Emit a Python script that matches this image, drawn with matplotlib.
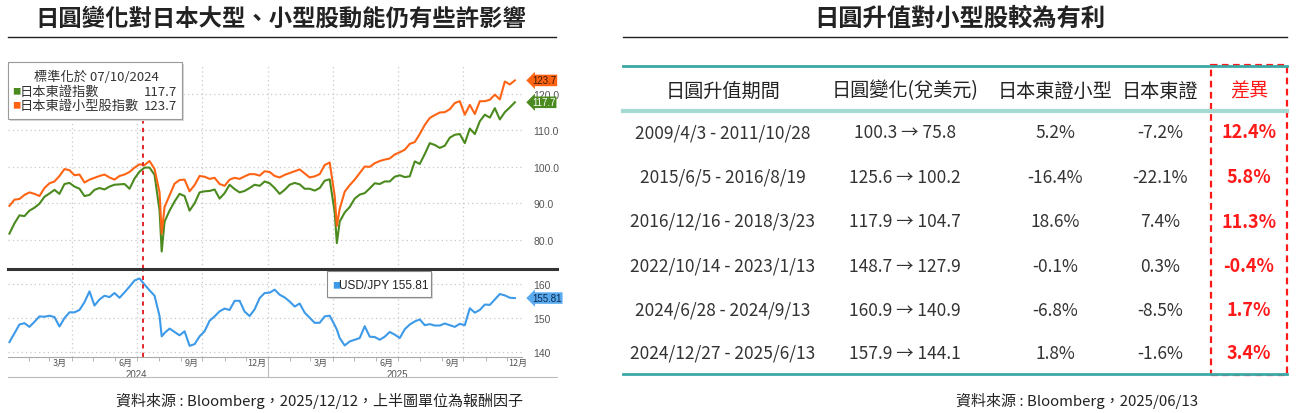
import matplotlib
matplotlib.use('Agg')
import matplotlib.pyplot as plt
from matplotlib.lines import Line2D
from matplotlib.patches import Rectangle
import pandas as pd

plt.rcParams['font.family'] = ['Noto Sans CJK TC', 'DejaVu Sans']
NUMFONT = ['Liberation Sans', 'Noto Sans CJK TC', 'DejaVu Sans']

# ---- left chart data: weekly Friday closes, plus the two crash Mondays ----
week_dates = pd.date_range('2024-01-05', '2025-12-12', freq='W-FRI')
crash_days = pd.to_datetime(['2024-08-05', '2025-04-07'])
dates = week_dates.union(crash_days)

# TOPIX small cap, normalised 07/10/2024 = 100
small_cap = [89.3, 91.0, 91.2, 92.3, 93.0, 92.6, 92.0, 94.2, 95.5, 96.0,
             97.5, 99.4, 99.1, 97.7, 97.9, 95.7, 96.5, 97.0, 97.5, 97.9,
             97.1, 96.5, 97.5, 97.9, 98.6, 99.8, 100.7, 100.5, 101.6, 99.4,
             93.0, 81.7,
             89.0, 92.2, 95.4, 96.4, 96.5, 93.3, 95.0, 97.5, 97.3, 96.7,
             97.0, 95.3, 94.8, 96.5, 97.0, 96.7, 97.4, 98.0, 98.0, 97.6,
             98.8, 98.6, 97.5, 97.1, 97.8, 98.3, 98.8, 99.3, 98.2, 97.1,
             97.4, 98.0, 100.5, 101.2, 92.0, 83.8,
             88.5, 93.2, 95.0, 96.5, 98.3, 100.1, 100.0, 101.0, 101.6, 102.0,
             102.3, 103.4, 104.0, 104.7, 106.3, 106.8, 109.0, 111.5, 113.4, 114.2,
             114.9, 115.0, 115.8, 117.5, 118.0, 114.3, 117.0, 114.5, 118.0, 118.0,
             118.4, 119.8, 118.5, 123.4, 122.6, 123.7]

# TOPIX, normalised 07/10/2024 = 100
topix = [81.7, 84.5, 86.7, 86.5, 88.0, 88.8, 89.9, 91.8, 92.7, 93.7,
         92.6, 95.3, 95.6, 94.6, 94.0, 92.0, 92.3, 93.7, 94.2, 93.8,
         94.6, 95.1, 95.2, 95.3, 94.0, 96.8, 98.7, 99.8, 99.8, 97.8,
         88.0, 76.8,
         85.0, 88.0, 90.5, 92.6, 92.0, 88.0, 90.0, 93.0, 93.3, 93.4,
         93.8, 91.3, 92.8, 95.1, 93.9, 93.0, 93.4, 94.2, 95.1, 94.8,
         96.0, 95.5, 94.2, 92.6, 93.7, 95.1, 95.6, 95.2, 94.0, 94.0,
         93.5, 94.2, 96.2, 96.6, 87.5, 79.1,
         85.0, 87.5, 89.0, 91.3, 92.4, 92.8, 94.1, 95.5, 95.3, 96.0,
         96.0, 97.3, 97.7, 97.2, 97.4, 101.5, 100.8, 103.5, 106.5, 106.0,
         105.2, 105.8, 108.0, 108.8, 109.0, 106.5, 110.5, 109.0, 112.5, 114.3,
         113.5, 116.1, 113.0, 115.0, 116.3, 117.7]

usdjpy = [142.8, 145.4, 148.0, 148.4, 147.3, 148.8, 150.4, 150.3, 150.6, 150.2,
          147.4, 149.9, 151.6, 151.6, 152.3, 154.6, 157.8, 153.6, 155.4, 156.5,
          156.1, 157.3, 155.9, 157.5, 159.2, 161.0, 161.6, 159.8, 158.1, 156.5,
          150.5, 144.5,
          145.5, 146.8, 145.8, 144.8, 146.0, 141.7, 142.2, 144.5, 146.0, 149.1,
          150.4, 151.9, 152.7, 152.3, 155.0, 155.0, 151.8, 150.5, 152.5, 155.8,
          157.3, 157.4, 158.3, 156.8, 156.0, 154.8, 153.3, 154.2, 151.5, 150.0,
          148.5, 148.5, 150.4, 150.6, 147.8, 146.5,
          144.0, 141.8, 143.0, 143.5, 144.0, 147.5, 144.4, 144.3, 143.5, 144.4,
          145.8, 145.0, 144.0, 146.6, 148.0, 148.9, 149.5, 147.8, 148.1, 147.7,
          147.7, 148.3, 147.8, 147.3, 148.2, 147.8, 152.8, 151.5, 152.3, 153.9,
          153.8, 155.4, 157.0, 156.6, 155.9, 155.81]

norm_date = pd.Timestamp('2024-07-10')

# ---- right table data ----
headers = ['日圓升值期間', '日圓變化(兌美元)', '日本東證小型', '日本東證', '差異']
periods = ['2009/4/3 - 2011/10/28', '2015/6/5 - 2016/8/19', '2016/12/16 - 2018/3/23',
           '2022/10/14 - 2023/1/13', '2024/6/28 - 2024/9/13', '2024/12/27 - 2025/6/13']
jpy_from = [100.3, 125.6, 117.9, 148.7, 160.9, 157.9]
jpy_to = [75.8, 100.2, 104.7, 127.9, 140.9, 144.1]
small_ret = [5.2, -16.4, 18.6, -0.1, -6.8, 1.8]
topix_ret = [-7.2, -22.1, 7.4, 0.3, -8.5, -1.6]
diff_ret = [12.4, 5.8, 11.3, -0.4, 1.7, 3.4]

GREEN = '#4b8a1e'
ORANGE = '#ff6414'
BLUE = '#3d9ae8'
RED = '#ff1a1a'
TEAL = '#3aa9a6'

W, H = 1298, 414
fig = plt.figure(figsize=(W / 100, H / 100), dpi=100)


def fx(px):
    return px / W


def fy(py):
    return 1 - py / H


def hline(x0, x1, y, **kw):
    fig.add_artist(Line2D([fx(x0), fx(x1)], [fy(y), fy(y)], transform=fig.transFigure, **kw))


# ---- titles ----
fig.text(fx(281), fy(19), '日圓變化對日本大型、小型股動能仍有些許影響', ha='center', va='center',
         fontsize=16.8, fontweight='bold', color='#222222')
hline(8, 556, 38, color='#222222', lw=1.0)
fig.text(fx(960), fy(19), '日圓升值對小型股較為有利', ha='center', va='center',
         fontsize=17.5, fontweight='bold', color='#222222')
hline(623, 1287, 38, color='#222222', lw=1.0)

# ---- left chart ----
ax1 = fig.add_axes([fx(8), fy(270), fx(522) - fx(8), fy(65) - fy(270)])
ax2 = fig.add_axes([fx(8), fy(358), fx(522) - fx(8), fy(270) - fy(358)], sharex=ax1)

ax1.plot(dates, topix, color=GREEN, lw=1.5)
ax1.plot(dates, small_cap, color=ORANGE, lw=1.5)
ax2.plot(dates, usdjpy, color=BLUE, lw=1.5)

ax1.set_xlim(pd.Timestamp('2024-01-03'), pd.Timestamp('2025-12-22'))
ax1.set_ylim(72.0, 128.2)
ax2.set_ylim(138.4, 164.4)

quarters = pd.to_datetime(['2024-04-01', '2024-07-01', '2024-10-01', '2025-01-01',
                           '2025-04-01', '2025-07-01', '2025-10-01'])
for ax in (ax1, ax2):
    for s in ax.spines.values():
        s.set_visible(False)
    ax.grid(axis='y', color='#c8c8c8', linestyle=(0, (1, 2.5)), lw=0.9)
    for q in quarters:
        ax.axvline(q, color='#c8c8c8', linestyle=(0, (1, 2.5)), lw=0.9, zorder=0)
    ax.axvline(norm_date, color='#e0262b', linestyle=(0, (2.2, 2.2)), lw=1.4, zorder=4)
    ax.yaxis.tick_right()
    ax.tick_params(axis='y', length=0, pad=8, labelsize=7.5, labelcolor='#555555')

ax1.set_yticks([80, 90, 100, 110, 120])
ax1.set_yticklabels(['80.0', '90.0', '100.0', '110.0', '120.0'], fontfamily=NUMFONT)
ax2.set_yticks([140, 150, 160])
ax2.set_yticklabels(['140', '150', '160'], fontfamily=NUMFONT)
ax1.tick_params(axis='x', which='both', length=0, labelbottom=False)

label_days = pd.to_datetime(['2024-03-16', '2024-06-16', '2024-09-16', '2024-12-16',
                             '2025-03-16', '2025-06-16', '2025-09-16', '2025-12-16'])
ax2.set_xticks(label_days)
ax2.set_xticklabels(['3月', '6月', '9月', '12月'] * 2)
ax2.set_xticks(pd.date_range('2024-02-01', '2025-12-01', freq='MS'), minor=True)
ax2.tick_params(axis='x', which='major', length=0, pad=1, labelsize=6.5, labelcolor='#555555')
ax2.tick_params(axis='x', which='minor', length=3, width=0.6, color='#aaaaaa')
ax2.spines['bottom'].set_visible(True)
ax2.spines['bottom'].set_color('#aaaaaa')
ax2.spines['bottom'].set_linewidth(0.8)

xt = ax2.get_xaxis_transform()
for yr, mid in (('2024', '2024-07-01'), ('2025', '2025-07-01')):
    ax2.text(pd.Timestamp(mid), -0.19, yr, transform=xt, ha='center', va='center',
             fontsize=7, color='#555555', family=NUMFONT)
ax2.plot([pd.Timestamp('2025-01-01')] * 2, [0, -0.23], transform=xt, color='#bbbbbb',
         lw=0.8, clip_on=False)
hline(8, 557, 378, color='#bbbbbb', lw=0.8)
hline(8, 557, 270, color='#333333', lw=2.2)

# last-value tags on the right axis
yt1 = ax1.get_yaxis_transform()
tag_kw = dict(ha='left', va='center', fontsize=7, family=NUMFONT, zorder=6)
ax1.text(1.02, small_cap[-1], f'{small_cap[-1]:.1f}', transform=yt1, color='#3a1a00',
         bbox=dict(boxstyle='larrow,pad=0.08', fc=ORANGE, ec='none'), **tag_kw)
ax1.text(1.02, topix[-1], f'{topix[-1]:.1f}', transform=yt1, color='white',
         bbox=dict(boxstyle='larrow,pad=0.08', fc=GREEN, ec='none'), **tag_kw)
ax2.text(1.02, usdjpy[-1], f'{usdjpy[-1]:.2f}', transform=ax2.get_yaxis_transform(),
         color='#0a2a4a', bbox=dict(boxstyle='larrow,pad=0.08', fc='#5aaaf0', ec='none'),
         **tag_kw)

# legend boxes
fig.add_artist(Rectangle((fx(10), fy(122)), fx(182) - fx(8), fy(63) - fy(120),
                         transform=fig.transFigure, fc='#d8d8d8', ec='none', zorder=5))
fig.add_artist(Rectangle((fx(8), fy(120)), fx(182) - fx(8), fy(63) - fy(120),
                         transform=fig.transFigure, fc='white', ec='#9a9a9a', lw=0.8, zorder=5))
fig.text(fx(96), fy(77), f'標準化於 {norm_date:%m/%d/%Y}', ha='center', va='center',
         fontsize=9.5, color='#333333', zorder=6)
for yy, col, name, val in ((92, GREEN, '日本東證指數', topix[-1]),
                           (106, ORANGE, '日本東證小型股指數', small_cap[-1])):
    fig.text(fx(12), fy(yy), '■', ha='left', va='center', fontsize=6, color=col, zorder=6)
    fig.text(fx(20), fy(yy), name, ha='left', va='center', fontsize=9.5, color='#333333', zorder=6)
    fig.text(fx(177), fy(yy), f'{val:.1f}', ha='right', va='center', fontsize=9.5,
             color='#333333', zorder=6)

fig.add_artist(Rectangle((fx(329), fy(300)), fx(431) - fx(327), fy(272) - fy(298),
                         transform=fig.transFigure, fc='#d8d8d8', ec='none', zorder=5))
fig.add_artist(Rectangle((fx(327), fy(298)), fx(431) - fx(327), fy(272) - fy(298),
                         transform=fig.transFigure, fc='white', ec='#8a8a8a', lw=0.8, zorder=5))
fig.text(fx(332), fy(286), '■', ha='left', va='center', fontsize=6, color=BLUE, zorder=6)
fig.text(fx(339), fy(286), f'USD/JPY {usdjpy[-1]:.2f}', ha='left', va='center', fontsize=8.6,
         color='#222222', family=NUMFONT, zorder=6)

fig.text(fx(319), fy(401), '資料來源 : Bloomberg，2025/12/12，上半圖單位為報酬因子',
         ha='center', va='center', fontsize=10.8, color='#222222')

# ---- right table ----
col_x = [723, 905, 1055, 1160, 1249]
row_y = [133, 178, 222, 267, 311, 354]

hline(623, 1287, 67, color=TEAL, lw=2.0)
hline(623, 1287, 112, color='#a6d9d0', lw=3.0)
hline(623, 1287, 375, color=TEAL, lw=2.0)

for cx, h in zip(col_x, headers):
    fig.text(fx(cx), fy(91), h, ha='center', va='center', fontsize=13.8,
             color=RED if h == '差異' else '#222222')

for i, ry in enumerate(row_y):
    cells = [periods[i], f'{jpy_from[i]:.1f} → {jpy_to[i]:.1f}',
             f'{small_ret[i]:.1f}%', f'{topix_ret[i]:.1f}%']
    for cx, c in zip(col_x, cells):
        fig.text(fx(cx), fy(ry), c, ha='center', va='center', fontsize=12.5, color='#333333')
    fig.text(fx(col_x[4]), fy(ry), f'{diff_ret[i]:.1f}%', ha='center', va='center',
             fontsize=13, fontweight='bold', color=RED)

fig.add_artist(Rectangle((fx(1211), fy(376)), fx(1287) - fx(1211), fy(66) - fy(376),
                         transform=fig.transFigure, fill=False, ec=RED, lw=1.6,
                         linestyle=(0, (3, 2))))

fig.text(fx(1198), fy(401), '資料來源 : Bloomberg，2025/06/13', ha='right', va='center',
         fontsize=10.8, color='#222222')

fig.savefig('out.png', dpi=100)
